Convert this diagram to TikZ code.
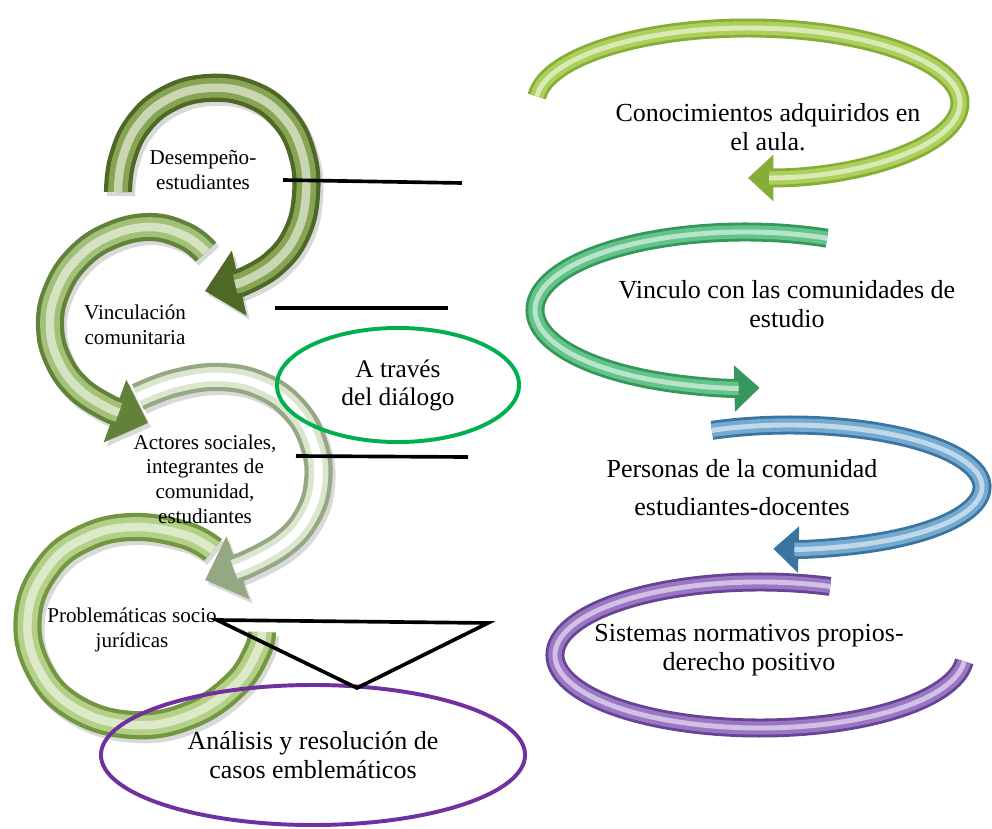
\documentclass[tikz,border=0pt]{standalone}
\usepackage{fontspec}
\setmainfont{Liberation Serif}
\usetikzlibrary{arrows.meta,shapes.geometric}

\definecolor{oneDark}{HTML}{4E6826}
\definecolor{oneMid}{HTML}{86A454}
\definecolor{twoDark}{HTML}{62823A}
\definecolor{twoMid}{HTML}{A2C078}
\definecolor{threeDark}{HTML}{95A884}
\definecolor{threeMid}{HTML}{DCE6CF}
\definecolor{fourDark}{HTML}{739640}
\definecolor{fourMid}{HTML}{B4D088}
\definecolor{aulaDark}{HTML}{86AD35}
\definecolor{aulaMid}{HTML}{ADD05C}
\definecolor{vincDark}{HTML}{35975C}
\definecolor{vincMid}{HTML}{62C48A}
\definecolor{persDark}{HTML}{3B74A0}
\definecolor{persMid}{HTML}{74A9D0}
\definecolor{sistDark}{HTML}{654492}
\definecolor{sistMid}{HTML}{9A76C4}
\definecolor{ovGreen}{HTML}{00B050}
\definecolor{ovPurple}{HTML}{7030A0}

\begin{document}
\begin{tikzpicture}[x=0.025cm,y=-0.025cm,
    leftTip/.style={-{Triangle[length=25pt,width=46pt]}},
    leftCut/.style={shorten >=22pt},
    rightTip/.style={-{Triangle[length=18pt,width=32pt]}},
    rightCut/.style={shorten >=15pt},
    noCut/.style={},
    shadowed/.style={black,opacity=.15,shift={(3,4)}},
    lbl/.style={align=center,inner sep=0pt,font=\fontsize{15}{17.5}\selectfont},
    rlbl/.style={align=center,inner sep=0pt,font=\fontsize{18.5}{20.5}\selectfont},
    link/.style={line width=2.6pt,black}]
    \useasboundingbox (0,0) rectangle (992,828);

    % left column, drawn from the bottom up
    \draw[line width=20pt,shadowed] plot[smooth,tension=.7] coordinates {(213,550) (185,535) (133,527) (85,538) (48,567) (28,615) (38,668) (75,708) (133,725) (190,715) (235,685) (257,652) (262,632)};
    \foreach \lw/\col/\st in {20pt/fourDark/noCut,14pt/fourMid/noCut,6pt/fourMid!45!white/noCut}
      \draw[line width=\lw,color=\col,\st] plot[smooth,tension=.7] coordinates {(213,550) (185,535) (133,527) (85,538) (48,567) (28,615) (38,668) (75,708) (133,725) (190,715) (235,685) (257,652) (262,632)};

    \draw[line width=20pt,shadowed,leftTip] plot[smooth,tension=.7] coordinates {(138,397) (175,383) (220,377) (262,386) (295,410) (314,445) (318,482) (307,517) (282,545) (243,566)} -- (205,580);
    \foreach \lw/\col/\st in {20pt/threeDark/leftTip,14pt/threeMid/leftCut,6pt/white/leftCut}
      \draw[line width=\lw,color=\col,\st] plot[smooth,tension=.7] coordinates {(138,397) (175,383) (220,377) (262,386) (295,410) (314,445) (318,482) (307,517) (282,545) (243,566)} -- (205,580);

    \draw[line width=20pt,shadowed,leftTip] plot[smooth,tension=.7] coordinates {(206,252) (185,236) (150,227) (110,236) (78,258) (57,290) (50,325) (58,360) (80,390) (112,410)} -- (148,423);
    \foreach \lw/\col/\st in {20pt/twoDark/leftTip,14pt/twoMid/leftCut,6pt/twoMid!45!white/leftCut}
      \draw[line width=\lw,color=\col,\st] plot[smooth,tension=.7] coordinates {(206,252) (185,236) (150,227) (110,236) (78,258) (57,290) (50,325) (58,360) (80,390) (112,410)} -- (148,423);

    \draw[line width=20pt,shadowed,leftTip] plot[smooth,tension=.7] coordinates {(118,192) (122,160) (138,125) (168,99) (208,88) (250,94) (283,117) (302,153) (306,195) (296,235) (272,265) (240,283)} -- (205,291);
    \foreach \lw/\col/\st in {20pt/oneDark/leftTip,14pt/oneMid/leftCut,6pt/oneMid!45!white/leftCut}
      \draw[line width=\lw,color=\col,\st] plot[smooth,tension=.7] coordinates {(118,192) (122,160) (138,125) (168,99) (208,88) (250,94) (283,117) (302,153) (306,195) (296,235) (272,265) (240,283)} -- (205,291);

    % right column
    \foreach \lw/\col/\st in {13.5pt/sistDark/noCut,9.5pt/sistMid/noCut,3.5pt/sistMid!45!white/noCut}
      \draw[line width=\lw,color=\col,\st,shift={(760,655)}] (290:205 and 73) arc[start angle=290,end angle=5,x radius=205,y radius=73];
    \foreach \lw/\col/\st in {13.5pt/persDark/rightTip,9.5pt/persMid/rightCut,3.5pt/persMid!45!white/rightCut}
      \draw[line width=\lw,color=\col,\st,shift={(790,487)}] (246:192 and 62) arc[start angle=246,end angle=455,x radius=192,y radius=62];
    \foreach \lw/\col/\st in {13.5pt/vincDark/rightTip,9.5pt/vincMid/rightCut,3.5pt/vincMid!45!white/rightCut}
      \draw[line width=\lw,color=\col,\st,shift={(745,310)}] (293:210 and 78) arc[start angle=293,end angle=86,x radius=210,y radius=78];
    \foreach \lw/\col/\st in {13.5pt/aulaDark/rightTip,9.5pt/aulaMid/rightCut,3.5pt/aulaMid!45!white/rightCut}
      \draw[line width=\lw,color=\col,\st,shift={(748,103)}] (185:212 and 75) arc[start angle=185,end angle=450,x radius=212,y radius=75];

    % labels
    \node[lbl] (desem) at (203,170) {Desempeño-\\estudiantes};
    \node[lbl] (vincul) at (135,325) {Vinculación\\comunitaria};
    \node[lbl] (actores) at (205,479) {Actores sociales,\\integrantes de\\comunidad,\\estudiantes};
    \node[lbl] (problem) at (132,630) {Problemáticas socio\\jurídicas};

    \node[rlbl] (aula) at (768,127) {Conocimientos adquiridos en\\el aula.};
    \node[rlbl] (comun) at (787,304) {Vinculo con las comunidades de\\estudio};
    \node[rlbl,font=\fontsize{18.5}{27}\selectfont] (personas) at (742,488) {Personas de la comunidad\\estudiantes-docentes};
    \node[rlbl] (sistemas) at (749,650) {Sistemas normativos propios-\\derecho positivo};

    \node[ellipse,draw=ovGreen,line width=2.8pt,minimum width=6.05cm,minimum height=2.85cm,inner sep=0pt,align=center,font=\fontsize{18}{20}\selectfont] (dialogo) at (398,385) {A través\\del diálogo};
    \node[ellipse,draw=ovPurple,line width=2.8pt,minimum width=10.6cm,minimum height=3.5cm,inner sep=0pt,align=center,font=\fontsize{18.5}{21}\selectfont] (casos) at (313,755) {Análisis y resolución de\\casos emblemáticos};

    % connectors
    \coordinate (d1) at (283,180); \coordinate (d2) at (462,183);
    \coordinate (v1) at (275,308); \coordinate (v2) at (448,308);
    \coordinate (a1) at (296,456); \coordinate (a2) at (468,457);
    \coordinate (p1) at (217,620); \coordinate (p2) at (488,623); \coordinate (p3) at (357,688);
    \draw[link] (d1) -- (d2);
    \draw[link] (v1) -- (v2);
    \draw[link] (a1) -- (a2);
    \draw[link,line join=miter] (p1) -- (p2) -- (p3) -- cycle;
\end{tikzpicture}
\end{document}
